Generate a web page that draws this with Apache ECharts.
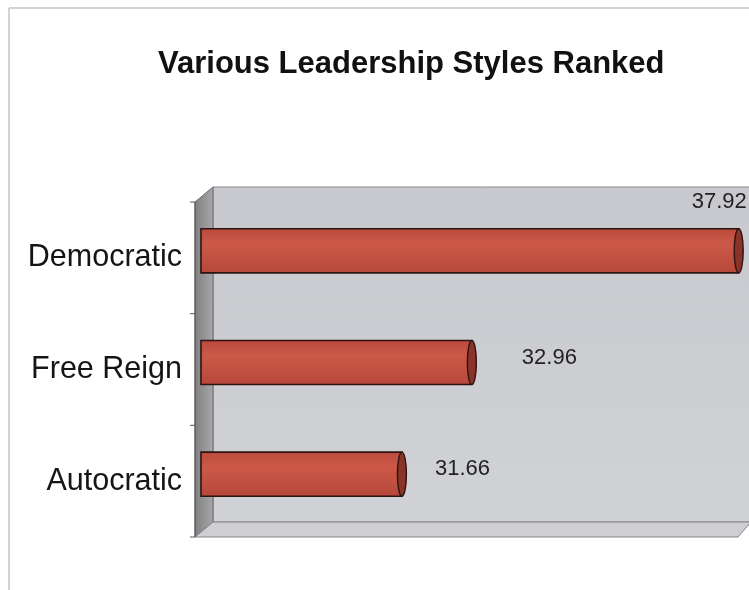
<!DOCTYPE html>
<html>
<head>
<meta charset="utf-8">
<script src="https://cdn.jsdelivr.net/npm/echarts@6/dist/echarts.min.js"></script>
<style>
  html, body { margin: 0; padding: 0; background: #ffffff; }
  #chart { width: 749px; height: 590px; }
</style>
</head>
<body>
<div id="chart"></div>
<script>
// Leadership style scores (bottom to top)
const categories = ['Autocratic', 'Free Reign', 'Democratic'];
const scores = [31.66, 32.96, 37.92];
const axisMin = 28;
const axisMax = 38;

// Plot plane the bars sit in
const G = { left: 205, top: 195, width: 538, height: 335 };
const gBottom = G.top + G.height;

// Pseudo-3D box around the plot: front plane and back plane
const FL = G.left - 10, BL = G.left + 8;
const FT = G.top + 7, BT = G.top - 8;
const FB = gBottom + 7, BB = gBottom - 8;
const FR = 738, BR = 749;

// Nudges for the value labels, keyed by category
const labelNudge = {
  'Democratic': [-47, -49],
  'Free Reign': [50, -5],
  'Autocratic': [33, -5]
};

const font = '"Liberation Sans", Arial, sans-serif';

const walls = [
  // outer chart frame
  { type: 'line', shape: { x1: 9, y1: 8, x2: 9, y2: 590 }, style: { stroke: '#c4c4c4', lineWidth: 1.5 }, z: 0 },
  { type: 'line', shape: { x1: 9, y1: 8, x2: 749, y2: 8 }, style: { stroke: '#c4c4c4', lineWidth: 1.5 }, z: 0 },
  // back wall
  {
    type: 'rect', shape: { x: BL, y: BT, width: BR - BL + 2, height: BB - BT },
    style: {
      fill: new echarts.graphic.LinearGradient(0, 0, 0, 1, [
        { offset: 0, color: '#c8c9ce' },
        { offset: 1, color: '#d1d2d6' }
      ]),
      stroke: '#8a8a8e', lineWidth: 1
    }, z: 1
  },
  // left side wall
  {
    type: 'polygon', shape: { points: [[FL, FT], [BL, BT], [BL, BB], [FL, FB]] },
    style: {
      fill: new echarts.graphic.LinearGradient(0, 0, 1, 0, [
        { offset: 0, color: '#808082' },
        { offset: 1, color: '#a8a8ab' }
      ]),
      stroke: '#6a6a6c', lineWidth: 1
    }, z: 1
  },
  // floor
  {
    type: 'polygon', shape: { points: [[FL, FB], [BL, BB], [BR + 2, BB], [FR, FB]] },
    style: { fill: '#cfcfd3', stroke: '#85858a', lineWidth: 1 }, z: 1
  },
  // front axis line
  { type: 'line', shape: { x1: FL, y1: FT, x2: FL, y2: FB }, style: { stroke: '#555', lineWidth: 1 }, z: 2 }
];
// category tick marks on the front axis
for (let k = 0; k <= categories.length; k++) {
  const y = FT + (FB - FT) * k / categories.length;
  walls.push({ type: 'line', shape: { x1: FL - 5, y1: y, x2: FL, y2: y }, style: { stroke: '#555', lineWidth: 1 }, z: 2 });
}

const chart = echarts.init(document.getElementById('chart'), null, { renderer: 'canvas' });

chart.setOption({
  animation: false,
  backgroundColor: '#ffffff',
  title: {
    text: 'Various Leadership Styles Ranked',
    left: 153,
    top: 44,
    textStyle: { fontFamily: font, fontSize: 31, fontWeight: 'bold', color: '#111' }
  },
  grid: [
    // bar plane
    { left: G.left, top: G.top, width: G.width, height: G.height, containLabel: false },
    // front plane, carries the category labels
    { left: FL, top: FT, width: G.width, height: G.height, containLabel: false }
  ],
  xAxis: [
    { type: 'value', gridIndex: 0, min: axisMin, max: axisMax, show: false },
    { type: 'value', gridIndex: 1, min: axisMin, max: axisMax, show: false }
  ],
  yAxis: [
    { type: 'category', gridIndex: 0, data: categories, show: false },
    {
      type: 'category',
      gridIndex: 1,
      data: categories,
      axisLine: { show: false },
      axisTick: { show: false },
      splitLine: { show: false },
      axisLabel: {
        margin: 13,
        fontFamily: font, fontSize: 30.5, color: '#151515'
      }
    }
  ],
  graphic: walls,
  series: [{
    type: 'custom',
    xAxisIndex: 0,
    yAxisIndex: 0,
    z: 5,
    clip: false,
    data: scores.map((v, i) => [v, i]),
    encode: { x: 0, y: 1 },
    renderItem: function (params, api) {
      const i = api.value(1);
      const v = api.value(0);
      const end = api.coord([v, i]);
      const start = api.coord([axisMin, i]);
      const h = api.size([0, 1])[1] * 0.395;
      const x0 = start[0] - 4;
      const nudge = labelNudge[categories[i]] || [30, -5];
      return {
        type: 'group',
        children: [
          {
            type: 'rect',
            shape: { x: x0, y: end[1] - h / 2, width: end[0] - x0, height: h },
            style: {
              fill: new echarts.graphic.LinearGradient(0, 0, 0, 1, [
                { offset: 0, color: '#bb4a3c' },
                { offset: 0.35, color: '#cc5948' },
                { offset: 1, color: '#b5473a' }
              ]),
              stroke: '#2e1410', lineWidth: 1.6
            }
          },
          {
            type: 'ellipse',
            shape: { cx: end[0], cy: end[1], rx: 4.5, ry: h / 2 },
            style: { fill: '#8a3328', stroke: '#2e1410', lineWidth: 1.4 }
          },
          {
            type: 'text',
            style: {
              text: v.toFixed(2),
              x: end[0] + nudge[0],
              y: end[1] + nudge[1],
              align: 'left',
              verticalAlign: 'middle',
              fontFamily: font,
              fontSize: 22,
              fill: '#222'
            }
          }
        ]
      };
    }
  }]
});
</script>
</body>
</html>
